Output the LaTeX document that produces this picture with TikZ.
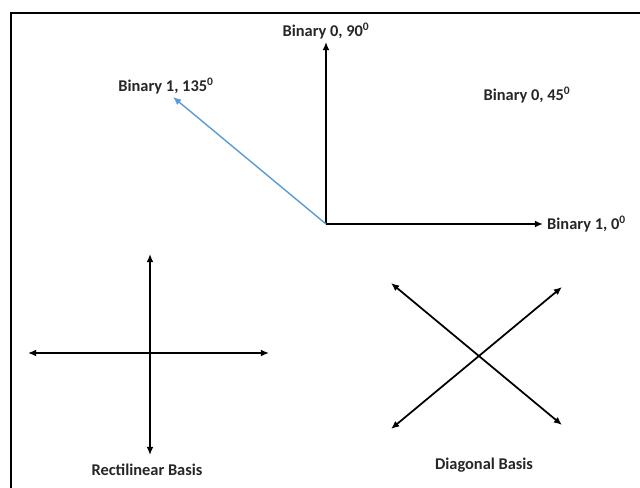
\documentclass[tikz,border=0pt]{standalone}
\usepackage{fontspec}
\setmainfont{Carlito}
\usepackage{tikz}
\usetikzlibrary{arrows.meta}
\definecolor{photonblue}{RGB}{91,155,213}

\begin{document}
\begin{tikzpicture}[x=0.03cm,y=-0.03cm,
        vec/.style={line width=1.5pt,-{Latex[length=7pt,width=6pt]}},
        dvec/.style={line width=1.5pt,{Latex[length=7pt,width=6pt]}-{Latex[length=7pt,width=6pt]}},
        lbl/.style={font=\fontsize{14}{16}\selectfont\bfseries,text=black!85,inner sep=0pt}]
        \useasboundingbox (0,0) rectangle (640,488);
        \draw[line width=1.6pt] (640,13) -- (11,13) -- (11,488);

        % Polarisation states
        \coordinate (o) at (326,224);
        \coordinate (t90) at (326,42);
        \coordinate (t0) at (543,224);
        \coordinate (t135) at (173,97);

        \draw[vec] (o) -- (t90);
        \draw[vec] (o) -- (t0);
        \draw[vec,photonblue,line width=1.2pt] (o) -- (t135);

        \node[lbl] (b90) at (326,31) {Binary 0, 90\textsuperscript{0}};
        \node[lbl,anchor=west] (b0) at (547,224) {Binary 1, 0\textsuperscript{0}};
        \node[lbl] (b135) at (166,86) {Binary 1, 135\textsuperscript{0}};
        \node[lbl] (b45) at (527,95) {Binary 0, 45\textsuperscript{0}};

        % Rectilinear basis
        \coordinate (rn) at (150,254);
        \coordinate (rs) at (150,455);
        \coordinate (rw) at (28,353);
        \coordinate (re) at (269,353);
        \draw[dvec] (rs) -- (rn);
        \draw[dvec] (rw) -- (re);
        \node[lbl] (rect) at (147,470) {Rectilinear Basis};

        % Diagonal basis
        \coordinate (dnw) at (391,283);
        \coordinate (dne) at (562,287);
        \coordinate (dsw) at (391,429);
        \coordinate (dse) at (562,425);
        \draw[dvec] (dnw) -- (dse);
        \draw[dvec] (dsw) -- (dne);
        \node[lbl] (diag) at (484,465) {Diagonal Basis};
\end{tikzpicture}
\end{document}
